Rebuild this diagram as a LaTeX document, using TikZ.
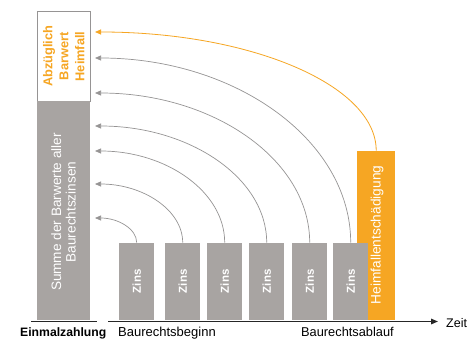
\documentclass[tikz,border=0pt]{standalone}
\usepackage{fontspec}
\setmainfont{Liberation Sans}
\usetikzlibrary{arrows.meta}
\definecolor{boxgray}{RGB}{168,164,162}
\definecolor{hforange}{RGB}{246,166,35}
\definecolor{linegray}{RGB}{150,148,148}
\begin{document}
\begin{tikzpicture}[x=1pt,y=-1pt,
  zinsbox/.style={fill=boxgray, minimum width=35pt, minimum height=77pt, anchor=south west, inner sep=0pt},
  zinstext/.style={rotate=90, text=white, font=\bfseries\fontsize{11.5}{12}\selectfont, inner sep=0pt},
  curve/.style={draw=linegray, line width=0.7pt, -{Triangle[length=6pt,width=5pt]}},
  ocurve/.style={draw=hforange, line width=0.8pt, -{Triangle[length=6pt,width=5pt]}},
  axis/.style={line width=1.5pt, draw=black!85},
  label/.style={anchor=base west, inner sep=0pt, font=\fontsize{13}{14}\selectfont}
]
\useasboundingbox[fill=white] (0,0) rectangle (470,340);

% left bar
\node[fill=white, draw=linegray, line width=0.8pt, minimum width=53pt, minimum height=90pt, anchor=north west, inner sep=0pt] (top) at (37,11) {};
\node[fill=boxgray, minimum width=53pt, minimum height=219pt, anchor=north west, inner sep=0pt] (sum) at (37,101) {};
\node[rotate=90, align=center, text=hforange, inner sep=0pt, font=\bfseries\fontsize{12.8}{16}\selectfont] (toptext) at (top.center) {Abzüglich\\Barwert\\Heimfall};
\node[rotate=90, align=center, text=white, inner sep=0pt, font=\fontsize{13.6}{14.5}\selectfont] (sumtext) at (63.5,212) {Summe der Barwerte aller\\Baurechtszinsen};

% orange bar
\node[fill=hforange, minimum width=38pt, minimum height=169pt, anchor=south west, inner sep=0pt] (hf) at (357,320) {};
\node[rotate=90, text=white, inner sep=0pt, font=\fontsize{13.7}{14}\selectfont] (hftext) at (377,235) {Heimfallentschädigung};

% Zins boxes
\node[zinsbox] (z1) at (119,320) {};
\node[zinsbox] (z2) at (165,320) {};
\node[zinsbox] (z3) at (207,320) {};
\node[zinsbox] (z4) at (249,320) {};
\node[zinsbox] (z5) at (292,320) {};
\node[zinsbox] (z6) at (333,320) {};
\foreach \i in {1,...,6} {\node[zinstext] (zt\i) at (z\i.center) {Zins};}

% arrow end points
\coordinate (e1) at (95,218);
\coordinate (e2) at (95,184);
\coordinate (e3) at (95,151);
\coordinate (e4) at (95,126);
\coordinate (e5) at (95,93);
\coordinate (e6) at (95,58);
\coordinate (e7) at (95,32);

\draw[curve] (z1.north) .. controls +(0,-13.8) and +(22.9,0) .. (e1);
\draw[curve] (z2.north) .. controls +(0,-32.6) and +(48,0) .. (e2);
\draw[curve] (z3.north) .. controls +(0,-50.8) and +(71.5,0) .. (e3);
\draw[curve] (z4.north) .. controls +(0,-64.6) and +(94.7,0) .. (e4);
\draw[curve] (z5.north) .. controls +(0,-82.8) and +(118.4,0) .. (e5);
\draw[curve] (z6.north) .. controls +(0,-102.1) and +(141,0) .. (e6);
\draw[ocurve] (hf.north) .. controls +(0,-65.7) and +(155.1,0) .. (e7);

% time axis
\coordinate (l1) at (31,321.5);
\coordinate (l2) at (97,321.5);
\coordinate (a1) at (108,321.5);
\coordinate (a2) at (438,321.5);
\draw[axis] (l1) -- (l2);
\draw[axis, -{Triangle[length=7pt,width=5.5pt]}] (a1) -- (a2);

% labels
\node[label, font=\bfseries\fontsize{12.2}{14}\selectfont] (einmal) at (20,336.5) {Einmalzahlung};
\node[label] (beginn) at (118,336.5) {Baurechtsbeginn};
\node[label, font=\fontsize{12.8}{14}\selectfont] (ablauf) at (301,336.5) {Baurechtsablauf};
\node[label, font=\fontsize{12.5}{14}\selectfont] (zeit) at (446,327.5) {Zeit};
\end{tikzpicture}
\end{document}
